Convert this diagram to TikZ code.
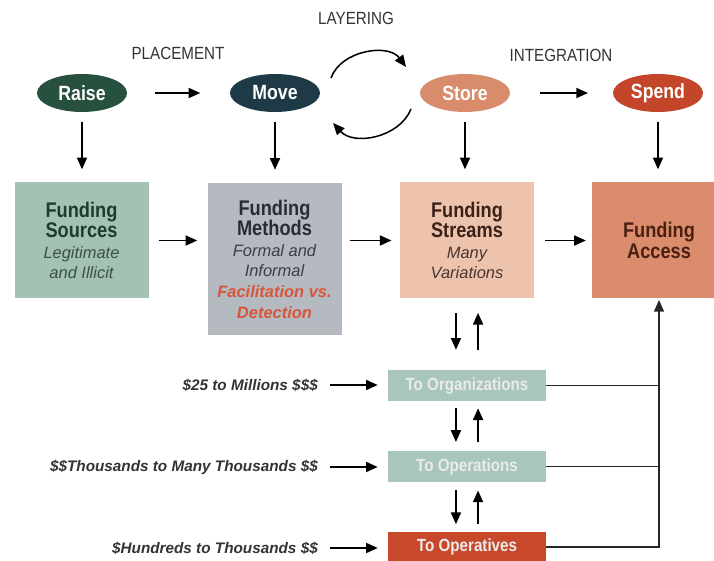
\documentclass[tikz,border=0pt]{standalone}
\usepackage{fontspec}
\setmainfont{Liberation Sans}
\newfontfamily\condfont[FakeStretch=0.86]{Liberation Sans}
\usetikzlibrary{arrows.meta, positioning, calc, shapes.geometric}
\definecolor{raiseC}{HTML}{28503F}
\definecolor{moveC}{HTML}{1F3A47}
\definecolor{storeC}{HTML}{D88C6C}
\definecolor{spendC}{HTML}{C4462A}
\definecolor{sourcesC}{HTML}{A3C2B2}
\definecolor{methodsC}{HTML}{B5BAC0}
\definecolor{streamsC}{HTML}{EDC3AE}
\definecolor{accessC}{HTML}{DA8C6C}
\definecolor{orgC}{HTML}{A8C6BA}
\definecolor{opvC}{HTML}{C8482C}
\definecolor{redtxt}{HTML}{D8553A}
\newcommand\ttl{\condfont\bfseries\fontsize{18}{18}\selectfont}
\newcommand\sub{\itshape\fontsize{14}{17.5}\selectfont}
\tikzset{
    arr/.style={-{Triangle[length=10pt,width=8.5pt]}, line width=1.6pt},
    link/.style={line width=1.2pt, black!85},
    stage/.style={ellipse, draw=none, fill=#1, minimum width=90*0.85pt, minimum height=38*0.85pt,
        inner sep=0pt, text=white, font=\condfont\bfseries\fontsize{17.5}{17.5}\selectfont},
    block/.style={rectangle, fill=#1, minimum width=134*0.85pt, minimum height=116*0.85pt,
        inner sep=0pt, align=center, font=\fontsize{14}{17.5}\selectfont},
    bar/.style={rectangle, fill=#1, minimum width=158*0.85pt, minimum height=31*0.85pt,
        inner sep=0pt, text=white!92!black, font=\condfont\bfseries\fontsize{15}{15}\selectfont},
    phase/.style={font=\condfont\fontsize{15}{15}\selectfont, text=black!80},
    amount/.style={anchor=east, inner sep=0pt, text=black!80,
        font=\bfseries\itshape\fontsize{13}{14}\selectfont}
}
\begin{document}
\begin{tikzpicture}[x=0.85pt, y=-0.85pt]
    \useasboundingbox (0,0) rectangle (714,561);
    % stages
    \node[stage=raiseC] (raise) at (82,93) {Raise};
    \node[stage=moveC] (move) at (275,93) {Move};
    \node[stage=storeC] (store) at (465,93) {Store};
    \node[stage=spendC] (spend) at (658,93) {Spend};
    \node[phase] (placement) at (178,53) {PLACEMENT};
    \node[phase] (layering) at (356,18) {LAYERING};
    \node[phase] (integration) at (561,55) {INTEGRATION};
    % funding boxes
    \node[block=sourcesC] (sources) at (81.5,240.5)
        {\color[HTML]{1F3B2F}\ttl Funding\\\color[HTML]{1F3B2F}\ttl Sources\\
         \color[HTML]{3C5047}\sub Legitimate\\\color[HTML]{3C5047}\sub and Illicit};
    \node[block=methodsC, minimum height=152*0.85pt] (methods) at (274.5,259)
        {\color[HTML]{262D33}\ttl Funding\\\color[HTML]{262D33}\ttl Methods\\
         \color[HTML]{3A3F44}\sub Formal and\\\color[HTML]{3A3F44}\sub Informal\\
         \color{redtxt}\sub\bfseries Facilitation vs.\\\color{redtxt}\sub\bfseries Detection};
    \node[block=streamsC] (streams) at (467,240.5)
        {\color[HTML]{3B2219}\ttl Funding\\\color[HTML]{3B2219}\ttl Streams\\
         \color[HTML]{4A3530}\sub Many\\\color[HTML]{4A3530}\sub Variations};
    \node[block=accessC] (access) at (659,240.5)
        {\color[HTML]{4A2013}\ttl Funding\\\color[HTML]{4A2013}\ttl Access};
    % levels
    \node[bar=orgC] (org) at (467,385.5) {To Organizations};
    \node[bar=orgC] (ops) at (467,466.5) {To Operations};
    \node[bar=opvC] (opv) at (467,547) {To Operatives};
    \node[amount] (amt1) at (318,385) {\$25 to Millions \$\$\$};
    \node[amount] (amt2) at (318,467) {\$\$Thousands to Many Thousands \$\$};
    \node[amount] (amt3) at (318,548) {\$Hundreds to Thousands \$\$};
    % top row
    \draw[arr, shorten <=24pt, shorten >=25pt] (raise) -- (move);
    \draw[arr, shorten <=25pt, shorten >=21pt] (store) -- (spend);
    \coordinate (lay1) at (331,78);
    \coordinate (lay2) at (406,67);
    \coordinate (lay3) at (411,109);
    \coordinate (lay4) at (333,123);
    \draw[arr, line width=1.3pt] (lay1) to[bend left=62] (lay2);
    \draw[arr, line width=1.3pt] (lay3) to[bend left=58] (lay4);
    \foreach \a/\b in {raise/sources, move/methods, store/streams, spend/access}
        \draw[arr, shorten <=8pt, shorten >=11pt] (\a.south) -- (\a.south |- \b.north);
    % across
    \draw[arr, shorten <=8.5pt, shorten >=8.5pt] (sources.east) -- (sources.east -| methods.west);
    \draw[arr, shorten <=7pt, shorten >=7pt] (methods.east |- streams.west) -- (streams.west);
    \draw[arr, shorten <=9pt, shorten >=5pt] (streams.east) -- (access.west);
    % up and down
    \draw[arr, shorten <=12pt, shorten >=17pt] ([xshift=-9.4pt]streams.south) -- ([xshift=-9.4pt]org.north);
    \draw[arr, shorten <=17pt, shorten >=12pt] ([xshift=9.4pt]org.north) -- ([xshift=9.4pt]streams.south);
    \draw[arr, shorten <=6pt, shorten >=7.5pt] ([xshift=-9.4pt]org.south) -- ([xshift=-9.4pt]ops.north);
    \draw[arr, shorten <=7.5pt, shorten >=6pt] ([xshift=9.4pt]ops.north) -- ([xshift=9.4pt]org.south);
    \draw[arr, shorten <=7pt, shorten >=6pt] ([xshift=-9.4pt]ops.south) -- ([xshift=-9.4pt]opv.north);
    \draw[arr, shorten <=6pt, shorten >=7pt] ([xshift=9.4pt]opv.north) -- ([xshift=9.4pt]ops.south);
    \foreach \n/\b in {amt1/org, amt2/ops, amt3/opv}
        \draw[arr, shorten <=10pt, shorten >=8.5pt] (\n.east) -- (\n.east -| \b.west);
    % back to access
    \draw[link] (org.east) -- (org.east -| access.south);
    \draw[link] (ops.east) -- (ops.east -| access.south);
    \draw[link, -{Triangle[length=10pt,width=8.5pt]}, shorten >=1pt] (opv.east) -| (access.south);
\end{tikzpicture}
\end{document}
